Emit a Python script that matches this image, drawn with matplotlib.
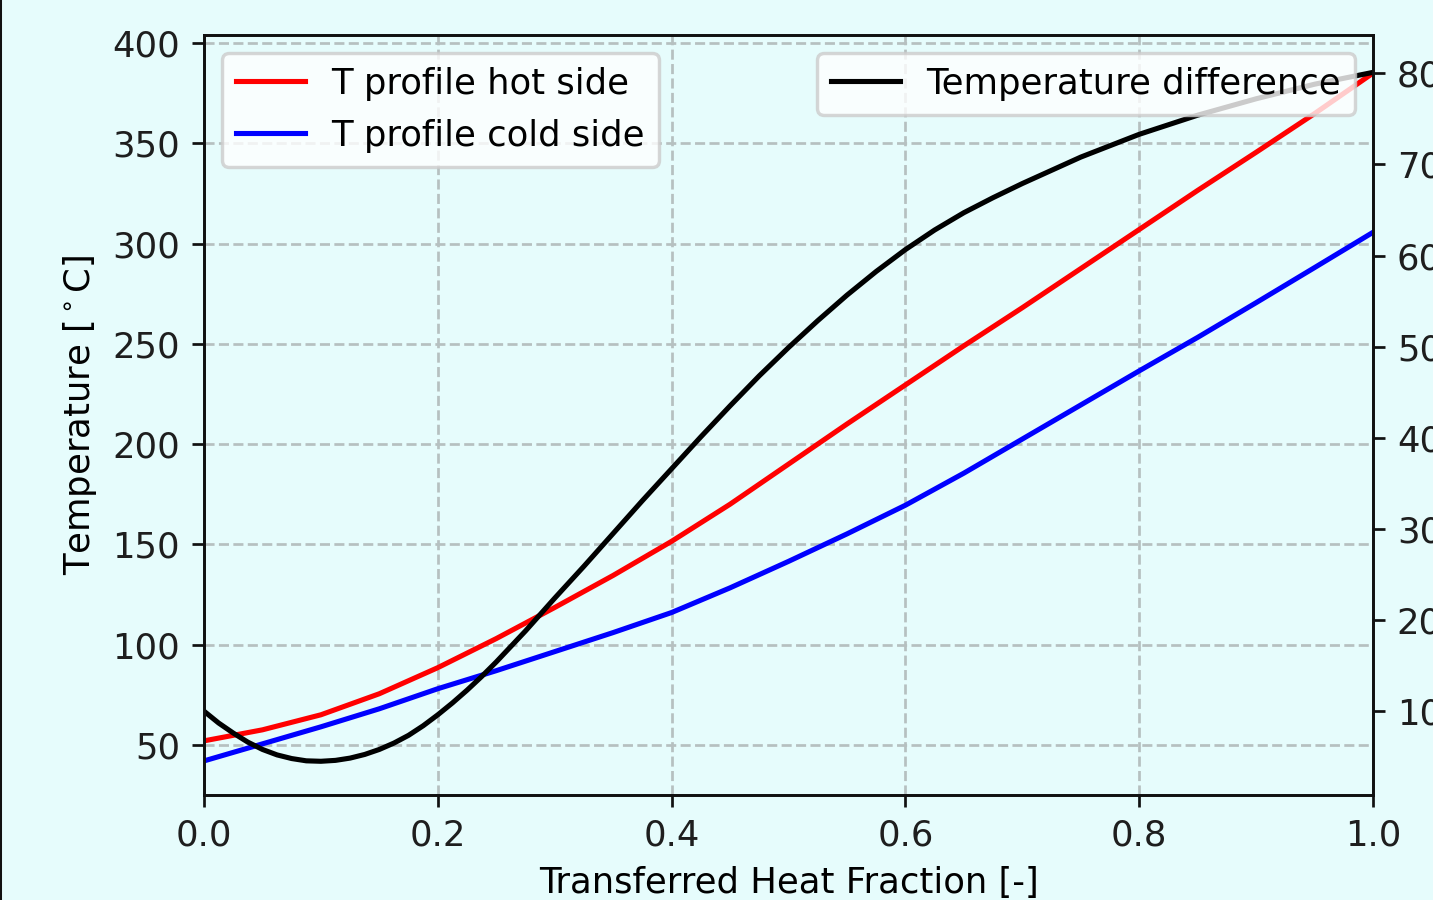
import matplotlib
matplotlib.use("Agg")
import matplotlib.pyplot as plt
from matplotlib.lines import Line2D

# Transferred heat fraction sample points
frac = [0.00, 0.05, 0.10, 0.15, 0.20, 0.25, 0.30, 0.35, 0.40, 0.45, 0.50,
        0.55, 0.60, 0.65, 0.70, 0.75, 0.80, 0.85, 0.90, 0.95, 1.00]

# Hot and cold side temperature profiles [°C]
t_hot = [52.0, 57.5, 65.0, 75.5, 88.5, 103.0, 118.5, 134.5, 151.5, 170.0, 190.0,
         210.0, 229.5, 249.0, 268.0, 287.5, 307.0, 326.5, 345.5, 364.8, 385.0]
t_cold = [42.0, 50.5, 59.0, 68.0, 78.0, 87.0, 96.5, 106.0, 116.0, 128.3, 141.5,
          155.2, 169.5, 185.5, 202.5, 219.5, 236.5, 253.2, 270.5, 288.0, 305.6]

# Temperature difference between hot and cold side [K]
frac_dt = [0.0000, 0.0125, 0.0250, 0.0375, 0.0500, 0.0625, 0.0750, 0.0875,
           0.1000, 0.1125, 0.1250, 0.1375, 0.1500, 0.1625, 0.1750, 0.1875,
           0.2000, 0.2125, 0.2250, 0.2375, 0.2500, 0.2625, 0.2750, 0.2875,
           0.3000, 0.3250, 0.3500, 0.3750, 0.4000, 0.4250, 0.4500, 0.4750,
           0.5000, 0.5250, 0.5500, 0.5750, 0.6000, 0.6250, 0.6500, 0.6750,
           0.7000, 0.7500, 0.8000, 0.8500, 0.9000, 0.9500, 1.0000]
delta_t = [10.0, 8.7, 7.6, 6.6, 5.8, 5.2, 4.8, 4.55,
           4.5, 4.6, 4.85, 5.25, 5.8, 6.5, 7.35, 8.4,
           9.6, 10.9, 12.3, 13.8, 15.4, 17.1, 18.8, 20.6,
           22.4, 25.9, 29.5, 33.1, 36.6, 40.1, 43.5, 46.8,
           49.9, 52.85, 55.65, 58.25, 60.65, 62.8, 64.7, 66.35,
           67.9, 70.8, 73.3, 75.4, 77.2, 78.8, 80.1]

x_ticks = [0.0, 0.2, 0.4, 0.6, 0.8, 1.0]
y_ticks = [50, 100, 150, 200, 250, 300, 350, 400]
dt_ticks = [10, 20, 30, 40, 50, 60, 70, 80]

bg = "#e6fcfc"
W, H, DPI = 1433, 900, 245
plt.rcParams["font.size"] = 10.4
plt.rcParams["legend.fontsize"] = 10.4
plt.rcParams["legend.handlelength"] = 1.95
plt.rcParams["legend.handletextpad"] = 0.75

fig = plt.figure(figsize=(W / DPI, H / DPI), dpi=DPI, facecolor=bg)
ax = fig.add_axes([204 / W, 1 - 795 / H, (1373 - 204) / W, (795 - 35) / H])
ax.set_facecolor(bg)

ax.plot(frac, t_hot, color="red", lw=1.5, label="T profile hot side")
ax.plot(frac, t_cold, color="blue", lw=1.5, label="T profile cold side")
ax.set_xlim(0.0, 1.0)
ax.set_ylim(25, 404)
ax.set_xticks(x_ticks)
ax.set_yticks(y_ticks)
ax.grid(True, linestyle="--", color="#b6c0c0", lw=0.8)
ax.set_axisbelow(True)
ax.set_xlabel("Transferred Heat Fraction [-]")
ax.set_ylabel(r"Temperature [$^\circ$C]")
ax.legend(loc="upper left")

ax2 = ax.twinx()
ax2.plot(frac_dt, delta_t, color="black", lw=1.5, label="Temperature difference")
ax2.set_ylim(0.8, 84.2)
ax2.set_yticks(dt_ticks)
ax2.legend(loc="upper right")

for a in (ax, ax2):
    for s in a.spines.values():
        s.set_color("#111111")
    a.tick_params(colors="#111111", labelcolor="#1e1e1e")

# thin frame line along the left edge
fig.add_artist(Line2D([0.8 / W, 0.8 / W], [0, 1], color="#111111", lw=0.6,
                      transform=fig.transFigure))

fig.savefig("out.png", dpi=DPI, facecolor=bg)
